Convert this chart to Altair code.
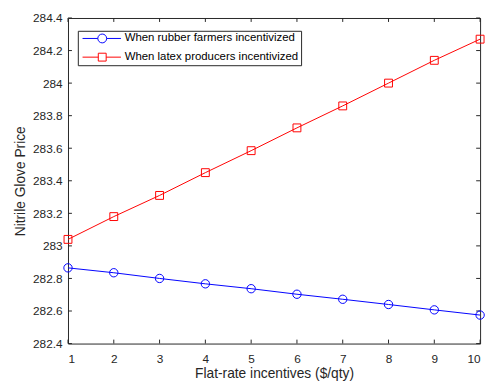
import altair as alt
import pandas as pd

x_vals = list(range(1, 11))
rubber = [282.865, 282.835, 282.800, 282.767, 282.737, 282.703, 282.672, 282.640, 282.607, 282.575]
latex = [283.040, 283.180, 283.310, 283.450, 283.585, 283.725, 283.860, 284.000, 284.140, 284.270]
series_names = ["When rubber farmers incentivized", "When latex producers incentivized"]
colors = ["#0000FF", "#FF0000"]
y_ticks = [282.4, 282.6, 282.8, 283.0, 283.2, 283.4, 283.6, 283.8, 284.0, 284.2, 284.4]

rows = []
for xi, r, l in zip(x_vals, rubber, latex):
    rows.append({"x": xi, "y": r, "series": series_names[0]})
    rows.append({"x": xi, "y": l, "series": series_names[1]})
df = pd.DataFrame(rows)
xt_df = pd.DataFrame({"v": x_vals})
yt_df = pd.DataFrame({"v": y_ticks})

FONT = "Liberation Sans"
GREY = "#262626"
TICK = 4

xscale = alt.Scale(domain=[1, 10], nice=False, zero=False)
yscale = alt.Scale(domain=[282.4, 284.4], nice=False, zero=False)
cscale = alt.Scale(domain=series_names, range=colors)

circle_path = "M-0.6,0H2.5M4.3,0H7.2M4.3,0A0.9,0.9,0,1,1,2.5,0A0.9,0.9,0,1,1,4.3,0Z"
square_path = "M-0.6,0H2.6M4.2,0H7.2M2.6,-0.8H4.2V0.8H2.6Z"
sscale = alt.Scale(domain=series_names, range=[circle_path, square_path])

common = dict(
    labelFont=FONT, labelFontSize=12, labelColor=GREY,
    titleFont=FONT, titleFontSize=14, titleColor=GREY, titleFontWeight="normal",
    ticks=False, tickSize=0, grid=False, domain=False,
)

base = alt.Chart(df)


def series_layers(i, shape, size):
    sub = base.transform_filter(alt.datum.series == series_names[i])
    ln = sub.mark_line(strokeWidth=1, opacity=1, color=colors[i]).encode(
        x=alt.X("x:Q", axis=None), y=alt.Y("y:Q", axis=None))
    pt = sub.mark_point(shape=shape, size=size, filled=False, strokeWidth=1,
                        opacity=1, color=colors[i]).encode(
        x=alt.X("x:Q", axis=None), y=alt.Y("y:Q", axis=None))
    return ln, pt


axes_layer = base.mark_point(opacity=0).encode(
    x=alt.X("x:Q", scale=xscale,
            axis=alt.Axis(values=x_vals, format="d", title="Flat-rate incentives ($/qty)",
                          labelPadding=10, titlePadding=3, **common)),
    y=alt.Y("y:Q", scale=yscale,
            axis=alt.Axis(values=y_ticks, format="~f", title="Nitrile Glove Price",
                          labelPadding=6, titlePadding=5, **common)),
)

# inward tick marks on all four sides of the box
xticks = alt.Chart(xt_df)
yticks = alt.Chart(yt_df)
tick_bottom = xticks.mark_rule(color=GREY, strokeWidth=1, y2Offset=-TICK).encode(
    x=alt.X("v:Q", scale=xscale, axis=None), y=alt.value("height"), y2=alt.value("height"))
tick_top = xticks.mark_rule(color=GREY, strokeWidth=1, y2Offset=TICK).encode(
    x=alt.X("v:Q", scale=xscale, axis=None), y=alt.value(0), y2=alt.value(0))
tick_left = yticks.mark_rule(color=GREY, strokeWidth=1, x2Offset=TICK).encode(
    y=alt.Y("v:Q", scale=yscale, axis=None), x=alt.value(0), x2=alt.value(0))
tick_right = yticks.mark_rule(color=GREY, strokeWidth=1, x2Offset=-TICK).encode(
    y=alt.Y("v:Q", scale=yscale, axis=None), x=alt.value("width"), x2=alt.value("width"))

leg = dict(
    orient="none", legendX=10, legendY=13, title=None,
    labelFont=FONT, labelFontSize=11.6, labelColor="#000000", labelLimit=0,
    symbolSize=100, symbolStrokeWidth=1, labelOffset=34,
    padding=2, rowPadding=5, strokeColor=GREY, fillColor="white", cornerRadius=0,
)

legend_layer = base.transform_filter("false").mark_point(filled=False, strokeWidth=1, opacity=1).encode(
    x=alt.X("x:Q", axis=None),
    y=alt.Y("y:Q", axis=None),
    color=alt.Color("series:N", scale=cscale, legend=alt.Legend(**leg)),
    shape=alt.Shape("series:N", scale=sscale, legend=alt.Legend(**leg)),
)

la, pa = series_layers(0, "circle", 72)
lb, pb = series_layers(1, "square", 64)

chart = alt.layer(
    axes_layer, tick_bottom, tick_top, tick_left, tick_right, la, lb, pa, pb, legend_layer
).resolve_axis(
    x="independent", y="independent"
).properties(
    width=419, height=331,
    padding={"left": 61, "top": 7, "right": 6, "bottom": 41},
    autosize=alt.AutoSizeParams(type="none"),
    background="white",
).configure_view(stroke=GREY, strokeWidth=1)

chart.save("out.html", embed_options={"renderer": "svg", "actions": False})
